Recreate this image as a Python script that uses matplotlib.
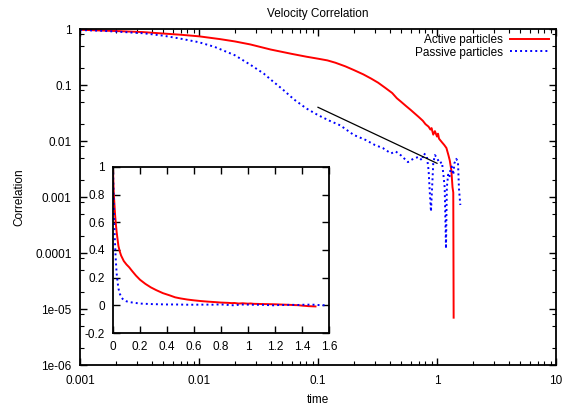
import numpy as np
import matplotlib
matplotlib.use("Agg")
import matplotlib.pyplot as plt
from matplotlib.ticker import FixedLocator, FixedFormatter, NullFormatter

plt.rcParams['font.family'] = ['Liberation Sans', 'DejaVu Sans']
FS = 8.5

# ---- data ----
active_t = [0.001, 0.0015, 0.002, 0.0034, 0.005, 0.007, 0.01, 0.015, 0.02, 0.027,
            0.04, 0.05, 0.06, 0.08, 0.1, 0.12, 0.14, 0.17, 0.2, 0.24, 0.28, 0.32,
            0.37, 0.42, 0.46, 0.5, 0.55, 0.6, 0.65, 0.7, 0.76, 0.8, 0.85, 0.88,
            0.9, 0.93, 0.96, 1.0, 1.02, 1.04, 1.1, 1.15, 1.2, 1.25, 1.28, 1.32,
            1.35, 1.37, 1.38, 1.40, 1.45, 1.5]
active_c = [0.97, 0.94, 0.92, 0.88, 0.83, 0.79, 0.74, 0.66, 0.6, 0.53,
            0.43, 0.39, 0.36, 0.32, 0.295, 0.275, 0.25, 0.215, 0.185, 0.155, 0.13, 0.11,
            0.088, 0.072, 0.058, 0.05, 0.042, 0.036, 0.031, 0.027, 0.023, 0.02, 0.018, 0.016,
            0.017, 0.013, 0.015, 0.012, 0.0135, 0.011, 0.0095, 0.0085, 0.0075, 0.0055, 0.0045, 0.003,
            0.0015, 0.0012, 7e-6, -0.002, -0.006, -0.008]

passive_t = [0.001, 0.0015, 0.002, 0.0034, 0.005, 0.0068, 0.01, 0.0135, 0.02, 0.027,
             0.035, 0.041, 0.05, 0.063, 0.08, 0.1, 0.125, 0.154, 0.2, 0.25, 0.3, 0.35,
             0.41, 0.45, 0.5, 0.57, 0.63, 0.70, 0.75, 0.77, 0.82, 0.85, 0.87, 0.89,
             0.91, 0.93, 0.96, 1.0, 1.05, 1.1, 1.13, 1.16, 1.19, 1.21, 1.24, 1.27,
             1.3, 1.33, 1.37, 1.4, 1.45, 1.5, 1.53, 1.57]
passive_c = [0.96, 0.93, 0.90, 0.84, 0.76, 0.68, 0.58, 0.48, 0.34, 0.23,
             0.16, 0.12, 0.085, 0.055, 0.038, 0.029, 0.023, 0.019, 0.0128, 0.0105, 0.0085, 0.0075,
             0.006, 0.0065, 0.0055, 0.0042, 0.0048, 0.0052, 0.0045, 0.006, 0.0055, 0.003, 0.0012, 0.00055,
             0.0015, 0.004, 0.0056, 0.005, 0.004, 0.0042, 0.0026, 0.0015, 0.00012, 0.0015, 0.0025, 0.0022,
             0.0032, 0.0035, 0.0025, 0.004, 0.0048, 0.0043, 0.0014, 0.00072]

guide_t = [0.1, 1.0]
guide_c = [0.04, 0.004]

main_xticks = [0.001, 0.01, 0.1, 1, 10]
main_xlabels = ['0.001', '0.01', '0.1', '1', '10']
main_yticks = [1e-6, 1e-5, 1e-4, 1e-3, 1e-2, 1e-1, 1]
main_ylabels = ['1e-06', '1e-05', '0.0001', '0.001', '0.01', '0.1', '1']

inset_xticks = [0, 0.2, 0.4, 0.6, 0.8, 1, 1.2, 1.4, 1.6]
inset_xlabels = ['0', '0.2', '0.4', '0.6', '0.8', '1', '1.2', '1.4', '1.6']
inset_yticks = [-0.2, 0, 0.2, 0.4, 0.6, 0.8, 1]
inset_ylabels = ['-0.2', '0', '0.2', '0.4', '0.6', '0.8', '1']

RED = '#ff0000'
BLUE = '#0000ff'
DOT = (0, (1, 1.6))

fig = plt.figure(figsize=(5.63, 4.05), dpi=100)
ax = fig.add_axes([80/563, 1-365/405, 476/563, 336/405])
ax.set_xscale('log')
ax.set_yscale('log', nonpositive='mask')
ax.set_xlim(0.001, 10)
ax.set_ylim(1e-6, 1)

ax.plot(active_t, active_c, color=RED, lw=1.4, label='Active particles')
ax.plot(passive_t, passive_c, color=BLUE, lw=1.4, ls=DOT, label='Passive particles')
ax.plot(guide_t, guide_c, color='black', lw=0.9)

ax.xaxis.set_major_locator(FixedLocator(main_xticks))
ax.xaxis.set_major_formatter(FixedFormatter(main_xlabels))
xminor = [m * 10.0**e for e in range(-3, 1) for m in range(2, 10)]
ax.xaxis.set_minor_locator(FixedLocator(xminor))
ax.xaxis.set_minor_formatter(NullFormatter())
ax.yaxis.set_major_locator(FixedLocator(main_yticks))
ax.yaxis.set_major_formatter(FixedFormatter(main_ylabels))
yminor = [m * 10.0**e for e in range(-6, 0) for m in (2, 5, 8)]
ax.yaxis.set_minor_locator(FixedLocator(yminor))
ax.yaxis.set_minor_formatter(NullFormatter())
ax.tick_params(which='both', direction='in', top=True, right=True, labelsize=FS, color='black')
ax.tick_params(which='major', length=5, width=1, pad=6)
ax.tick_params(axis='x', which='major', pad=7)
ax.tick_params(which='minor', length=3, width=0.8)
for s in ax.spines.values():
    s.set_linewidth(1.3)

ax.set_title('Velocity Correlation', fontsize=FS, pad=9)
ax.set_xlabel('time', fontsize=FS, labelpad=5)
ax.set_ylabel('Correlation', fontsize=FS, labelpad=7)

leg = ax.legend(loc='upper right', bbox_to_anchor=(549/563, 1-34/405),
                bbox_transform=fig.transFigure, frameon=False, markerfirst=False,
                fontsize=FS, handlelength=3.3, handletextpad=0.6, labelspacing=0.05,
                borderpad=0, borderaxespad=0)

# ---- inset ----
ins = fig.add_axes([113/563, 1-333/405, 216/563, 166/405])
ins.set_xlim(0, 1.6)
ins.set_ylim(-0.2, 1)
ins.plot(active_t, active_c, color=RED, lw=1.4)
ins.plot(passive_t, passive_c, color=BLUE, lw=1.4, ls=DOT)
ins.xaxis.set_major_locator(FixedLocator(inset_xticks))
ins.xaxis.set_major_formatter(FixedFormatter(inset_xlabels))
ins.yaxis.set_major_locator(FixedLocator(inset_yticks))
ins.yaxis.set_major_formatter(FixedFormatter(inset_ylabels))
ins.tick_params(which='major', direction='in', top=True, right=True, labelsize=FS,
                length=5, width=1, pad=6)
for s in ins.spines.values():
    s.set_linewidth(1.3)

fig.savefig('out.png', dpi=100)
